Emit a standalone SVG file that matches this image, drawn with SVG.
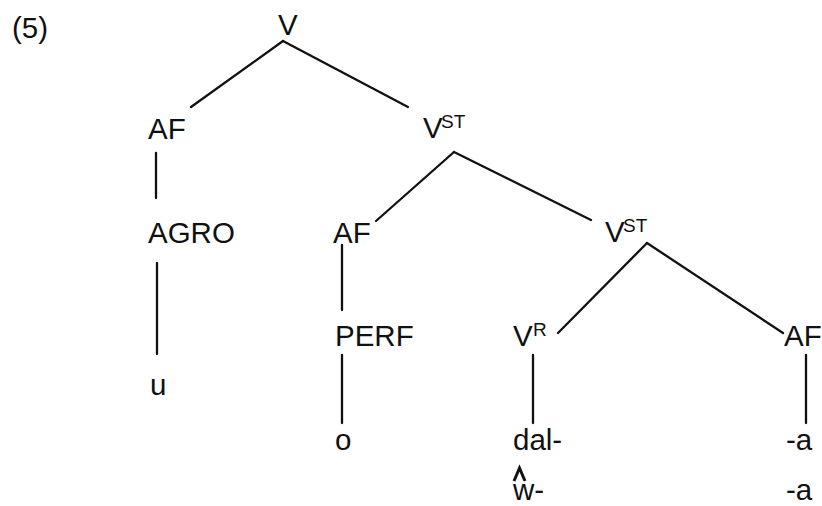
<svg xmlns="http://www.w3.org/2000/svg" width="822" height="506" viewBox="0 0 822 506">
<style>
text{font-family:"Liberation Sans",Arial,sans-serif;font-size:29.5px;fill:#111}
.sup{font-size:19px}
.e{stroke:#111;stroke-width:2.3;fill:none;stroke-linecap:round}
</style>
<rect width="822" height="506" fill="#fff"/>
<text x="12" y="38">(5)</text>
<g id="connectors">
<line class="e" x1="283" y1="41" x2="191" y2="107"/>
<line class="e" x1="283" y1="41" x2="408" y2="107"/>
<line class="e" x1="156" y1="153" x2="156" y2="198"/>
<line class="e" x1="157" y1="263" x2="157" y2="354"/>
<line class="e" x1="454" y1="152" x2="376" y2="221"/>
<line class="e" x1="454" y1="152" x2="591" y2="220"/>
<line class="e" x1="342" y1="245" x2="342" y2="310"/>
<line class="e" x1="342" y1="355" x2="342" y2="423"/>
<line class="e" x1="647" y1="243" x2="558" y2="333"/>
<line class="e" x1="647" y1="243" x2="783" y2="333"/>
<line class="e" x1="533" y1="355" x2="533" y2="423"/>
<line class="e" x1="806" y1="355" x2="806" y2="423"/>
</g>
<g id="n-V"><text x="278" y="35">V</text></g>
<g id="n-AF1"><text x="148" y="139">AF</text></g>
<g id="n-VST1"><text x="423" y="138">V</text><text class="sup" x="441" y="128">ST</text></g>
<g id="n-AGRO"><text x="148" y="243">AGRO</text></g>
<g id="n-AF2"><text x="333" y="243">AF</text></g>
<g id="n-VST2"><text x="605" y="242">V</text><text class="sup" x="623" y="232">ST</text></g>
<g id="n-u"><text x="150" y="395">u</text></g>
<g id="n-PERF"><text x="335" y="346">PERF</text></g>
<g id="n-VR"><text x="513" y="346">V</text><text class="sup" x="533" y="336">R</text></g>
<g id="n-AF3"><text x="784" y="346">AF</text></g>
<g id="n-o"><text x="335" y="450">o</text></g>
<g id="n-dal"><text x="513" y="450">dal-</text>
<polyline points="514,481 519.5,468 525,481" fill="none" stroke="#111" stroke-width="3"/>
<text x="513" y="500">w-</text></g>
<g id="n-a"><text x="786" y="450">-a</text><text x="786" y="500">-a</text></g>
</svg>
